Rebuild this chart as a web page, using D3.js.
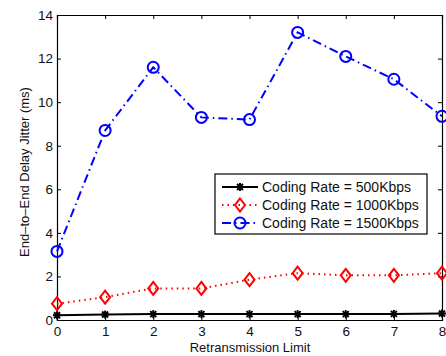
<!DOCTYPE html>
<html>
<head>
<meta charset="utf-8">
<script src="https://cdn.jsdelivr.net/npm/d3@7"></script>
<style>
  body { margin: 0; background: #fff; }
  text { font-family: "Liberation Sans", Arial, sans-serif; }
</style>
</head>
<body>
<svg id="chart" width="446" height="356"></svg>
<script>
// data
const limits = [0, 1, 2, 3, 4, 5, 6, 7, 8]
const rate500 = [0.22, 0.25, 0.27, 0.27, 0.27, 0.27, 0.27, 0.28, 0.3]
const rate1000 = [0.75, 1.05, 1.45, 1.45, 1.85, 2.15, 2.05, 2.05, 2.15]
const rate1500 = [3.15, 8.7, 11.6, 9.3, 9.2, 13.2, 12.1, 11.05, 9.35]
const yTicks = [0, 2, 4, 6, 8, 10, 12, 14]
const seriesNames = ["Coding Rate = 500Kbps", "Coding Rate = 1000Kbps", "Coding Rate = 1500Kbps"]

const svg = d3.select("#chart")
const m = {left: 57, right: 442, top: 15, bottom: 320}

const x = d3.scaleLinear().domain([0, 8]).range([m.left, m.right])
const y = d3.scaleLinear().domain([0, 14]).range([m.bottom, m.top])

// axes, ticks point inward like matlab
const tickLen = 4
svg.append("g").attr("transform", `translate(0,${m.bottom})`)
  .call(d3.axisBottom(x).tickValues(limits).tickSize(-tickLen).tickPadding(6).tickFormat(d3.format("d")))
svg.append("g").attr("transform", `translate(0,${m.top})`)
  .call(d3.axisTop(x).tickValues(limits).tickSize(-tickLen).tickFormat(""))
svg.append("g").attr("transform", `translate(${m.left},0)`)
  .call(d3.axisLeft(y).tickValues(yTicks).tickSize(-tickLen).tickPadding(4))
svg.append("g").attr("transform", `translate(${m.right},0)`)
  .call(d3.axisRight(y).tickValues(yTicks).tickSize(-tickLen).tickFormat(""))

svg.selectAll(".domain").attr("stroke", "#000").attr("stroke-width", 1.2)
svg.selectAll(".tick line").attr("stroke", "#000")
svg.selectAll(".tick text").attr("font-size", 13.5).attr("fill", "#111")
  .attr("font-family", "Liberation Sans, Arial, sans-serif")

svg.append("text")
  .attr("x", 250).attr("y", 352)
  .attr("text-anchor", "middle").attr("font-size", 13).attr("fill", "#111")
  .text("Retransmission Limit")
svg.append("text")
  .attr("transform", `translate(29,172) rotate(-90)`)
  .attr("text-anchor", "middle").attr("font-size", 13).attr("fill", "#111")
  .text("End\u2013to\u2013End Delay Jitter (ms)")

const series = [
  {vals: rate500, color: "#000", dash: null, mark: "star"},
  {vals: rate1000, color: "#f00", dash: "1.5,4", mark: "diamond"},
  {vals: rate1500, color: "#00f", dash: "9,4,1.5,4", mark: "circle"}
]

const drawMark = (g, type, color, cx, cy) => {
  if (type == "circle") {
    g.append("circle").attr("cx", cx).attr("cy", cy).attr("r", 5.5)
      .attr("fill", "none").attr("stroke", color).attr("stroke-width", 2)
  } else if (type == "diamond") {
    g.append("path").attr("d", `M${cx},${cy-6.5}L${cx+5},${cy}L${cx},${cy+6.5}L${cx-5},${cy}Z`)
      .attr("fill", "none").attr("stroke", color).attr("stroke-width", 2)
  } else {
    const s = 4
    const d = [[0, -s, 0, s], [-s, 0, s, 0], [-s*0.75, -s*0.75, s*0.75, s*0.75], [-s*0.75, s*0.75, s*0.75, -s*0.75]]
    d.forEach(l => g.append("line")
      .attr("x1", cx + l[0]).attr("y1", cy + l[1]).attr("x2", cx + l[2]).attr("y2", cy + l[3])
      .attr("stroke", color).attr("stroke-width", 2))
  }
}

const line = d3.line().x((d, i) => x(limits[i])).y(d => y(d))

series.forEach(s => {
  const g = svg.append("g")
  g.append("path").datum(s.vals).attr("d", line)
    .attr("fill", "none").attr("stroke", s.color).attr("stroke-width", 2)
    .attr("stroke-dasharray", s.dash)
  s.vals.forEach((v, i) => drawMark(g, s.mark, s.color, x(limits[i]), y(v)))
})

// legend
const lg = svg.append("g")
lg.append("rect").attr("x", 215).attr("y", 174).attr("width", 212).attr("height", 60)
  .attr("fill", "#fff").attr("stroke", "#000").attr("stroke-width", 1.2)
series.forEach((s, i) => {
  const ly = 187 + i * 18
  lg.append("line").attr("x1", 222).attr("x2", 258).attr("y1", ly).attr("y2", ly)
    .attr("stroke", s.color).attr("stroke-width", 2).attr("stroke-dasharray", s.dash)
  drawMark(lg, s.mark, s.color, 240, ly)
  lg.append("text").attr("x", 262).attr("y", ly + 5).attr("font-size", 14).attr("fill", "#111")
    .text(seriesNames[i])
})
</script>
</body>
</html>
